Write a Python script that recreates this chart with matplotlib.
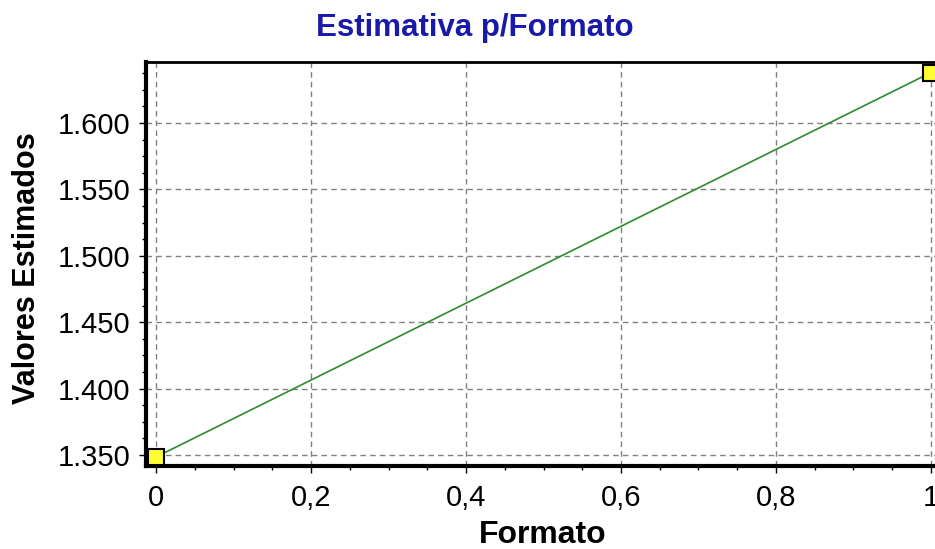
import matplotlib
matplotlib.use("Agg")
import matplotlib.pyplot as plt
from matplotlib.ticker import MultipleLocator, FuncFormatter

x_vals = [0.0, 1.0]
y_vals = [1.3485, 1.638]
x_ticks = [0, 0.2, 0.4, 0.6, 0.8, 1.0]
y_ticks = [1.350, 1.400, 1.450, 1.500, 1.550, 1.600]

plt.rcParams['font.family'] = ['Liberation Sans', 'DejaVu Sans']

fig = plt.figure(figsize=(9.35, 5.49), dpi=100)
W, H = 935, 549
left, right, top, bottom = 146, 937, 62, 466
ax = fig.add_axes([left / W, 1 - bottom / H, (right - left) / W, (bottom - top) / H])

ax.plot(x_vals, y_vals, color='#2e8b2e', lw=1.2, zorder=3)
ax.plot(x_vals, y_vals, ls='none', marker='s', ms=11, mfc='#ffff33', mec='black', mew=1.5,
        clip_on=False, zorder=4)

xl0 = -10 / 775
xl1 = (right - 156) / 775
ax.set_xlim(xl0, xl1)
ax.set_ylim(1.350 - 11 / 66.4 * 0.05, 1.600 + 61 / 66.4 * 0.05)

ax.set_xticks(x_ticks)
ax.set_yticks(y_ticks)
ax.xaxis.set_minor_locator(MultipleLocator(0.05))
ax.yaxis.set_minor_locator(MultipleLocator(0.0125))
ax.xaxis.set_major_formatter(FuncFormatter(lambda v, p: ('%g' % round(v, 2)).replace('.', ',')))
ax.yaxis.set_major_formatter(FuncFormatter(lambda v, p: '%.3f' % v))

ax.grid(True, which='major', ls=(0, (4, 3)), color='#808080', lw=1.0)
ax.tick_params(axis='both', which='major', labelsize=21, length=5, width=1, colors='black')
ax.tick_params(axis='both', which='minor', length=3, width=1)
ax.tick_params(axis='x', pad=8)
ax.tick_params(axis='y', pad=6)

for s in ['left', 'bottom']:
    ax.spines[s].set_linewidth(3)
ax.spines['top'].set_linewidth(2)
ax.spines['right'].set_visible(False)

ax.set_xlabel('Formato', fontsize=23, fontweight='bold')
ax.set_ylabel('Valores Estimados', fontsize=22, fontweight='bold')
ax.xaxis.set_label_coords((543 - left) / (right - left), -(520 - bottom) / (bottom - top))
ax.yaxis.set_label_coords(-(146 - 42) / (right - left), (bottom - 268) / (bottom - top))
fig.text(475 / W, 1 - 28 / H, 'Estimativa p/Formato', ha='center', va='center',
         fontsize=22.5, fontweight='bold', color='#1a1aa8')

fig.savefig('out.png', dpi=100)
